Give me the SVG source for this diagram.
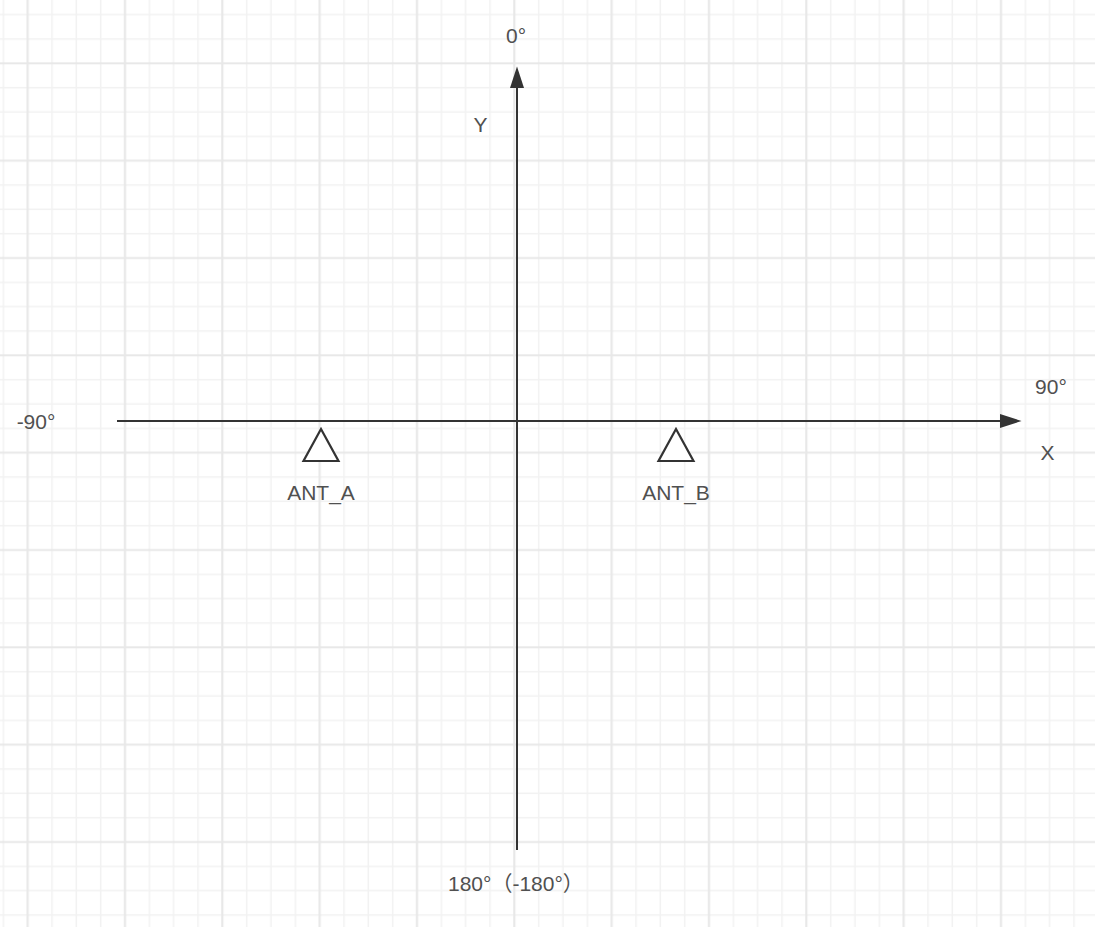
<svg xmlns="http://www.w3.org/2000/svg" width="1095" height="927" viewBox="0 0 1095 927">
  <style>
    .lbl { font-family: "Liberation Sans", "Noto Sans CJK SC", Arial, sans-serif; font-size: 21px; fill: #505050; }
    .axis { stroke: #333333; stroke-width: 2; fill: none; }
    .ant { stroke: #333333; stroke-width: 2.2; fill: #ffffff; stroke-linejoin: miter; }
    .minor { stroke: #f2f2f2; stroke-width: 1.6; }
    .major { stroke: #e8e8e8; stroke-width: 2.2; }
  </style>
  <defs>
    <pattern id="grid" patternUnits="userSpaceOnUse" x="-33.167" y="2.5" width="97.333" height="97.333">
      <line class="minor" x1="12.167" y1="0" x2="12.167" y2="97.333"/>
      <line class="minor" x1="36.5" y1="0" x2="36.5" y2="97.333"/>
      <line class="minor" x1="85.167" y1="0" x2="85.167" y2="97.333"/>
      <line class="minor" x1="0" y1="12.167" x2="97.333" y2="12.167"/>
      <line class="minor" x1="0" y1="36.5" x2="97.333" y2="36.5"/>
      <line class="minor" x1="0" y1="85.167" x2="97.333" y2="85.167"/>
      <line class="major" x1="60.833" y1="0" x2="60.833" y2="97.333"/>
      <line class="major" x1="0" y1="60.833" x2="97.333" y2="60.833"/>
    </pattern>
    <marker id="arrow" markerUnits="userSpaceOnUse" markerWidth="22" markerHeight="14" viewBox="0 0 20 13" refX="0" refY="6.5" orient="auto">
      <path d="M0,0 L20,6.5 L0,13 Z" fill="#333333"/>
    </marker>
  </defs>
  <rect x="0" y="0" width="1095" height="927" fill="#ffffff"/>
  <rect x="0" y="0" width="1095" height="927" fill="url(#grid)"/>

  <g id="connectors">
    <line id="x-axis" class="axis" x1="117" y1="421" x2="1000" y2="421" marker-end="url(#arrow)"/>
    <line id="y-axis" class="axis" x1="517" y1="850" x2="517" y2="88" marker-end="url(#arrow)"/>
  </g>

  <g id="axis-labels">
    <text class="lbl" x="516" y="43" text-anchor="middle">0°</text>
    <text class="lbl" x="480.5" y="131.5" text-anchor="middle">Y</text>
    <text class="lbl" x="1051" y="394" text-anchor="middle">90°</text>
    <text class="lbl" x="1047.5" y="460" text-anchor="middle">X</text>
    <text class="lbl" x="36" y="429" text-anchor="middle">-90°</text>
    <text class="lbl" x="448" y="891">180°（-180°）</text>
  </g>

  <g id="ANT_A">
    <polygon class="ant" points="321,429 303.5,461 338.5,461"/>
    <text class="lbl" x="321" y="500" text-anchor="middle">ANT_A</text>
  </g>

  <g id="ANT_B">
    <polygon class="ant" points="676,429 658.5,461 693.5,461"/>
    <text class="lbl" x="676" y="500" text-anchor="middle">ANT_B</text>
  </g>
</svg>
